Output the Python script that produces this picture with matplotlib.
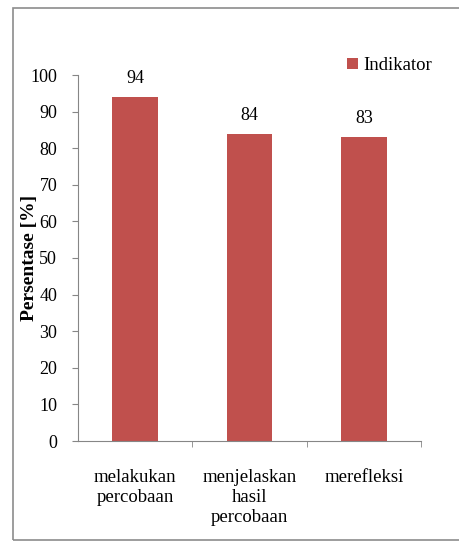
import numpy as np
import matplotlib
matplotlib.use("Agg")
import matplotlib.pyplot as plt
from matplotlib.patches import Rectangle

plt.rcParams['font.family'] = ['Liberation Serif', 'DejaVu Serif']

categories = ["melakukan\npercobaan", "menjelaskan\nhasil\npercobaan", "merefleksi"]
values = [94, 84, 83]
series_name = "Indikator"

fig = plt.figure(figsize=(4.59, 5.48), dpi=100)
fig.patch.set_facecolor('white')

# outer frame of the chart object
frame = Rectangle((13/459, 8/548), 1.2, 1 - 16/548, transform=fig.transFigure,
                  fill=False, edgecolor='#8c8c8c', linewidth=1.2)
fig.patches.append(frame)

ax = fig.add_axes([78/459, 107/548, 343/459, 366/548])
x = np.arange(len(categories))
bars = ax.bar(x, values, width=0.4, color='#C0504D', label=series_name)

for b, v in zip(bars, values):
    ax.annotate(str(v), (b.get_x() + b.get_width()/2, v), xytext=(0, 7),
                textcoords='offset points', ha='center', va='bottom', fontsize=13)

ax.set_xlim(-0.5, len(categories) - 0.5)
ax.set_ylim(0, 100)
ax.set_yticks(np.arange(0, 101, 10))
ax.set_xticks(x)
ax.set_xticklabels(categories, fontsize=13.5, linespacing=1.25)
ax.set_xticks(np.arange(0.5, len(categories), 1), minor=True)
ax.tick_params(axis='x', which='major', length=0, pad=20)
ax.tick_params(axis='x', which='minor', length=4, color='#868686', direction='out')
ax.tick_params(axis='y', length=4, color='#868686', labelsize=13, pad=11)

for s in ['top', 'right']:
    ax.spines[s].set_visible(False)
for s in ['left', 'bottom']:
    ax.spines[s].set_color('#868686')

# label pressed up against the tick numbers
ax.set_ylabel("Persentase [%]", fontsize=14, fontweight='bold')
ax.yaxis.set_label_coords(-0.116, 0.50)

ax.legend(loc='upper right', bbox_to_anchor=(449/459, 1 - 40/548),
          bbox_transform=fig.transFigure, frameon=False, fontsize=13.5,
          handlelength=0.55, handleheight=0.55, handletextpad=0.3)

fig.savefig("out.png", dpi=100)
